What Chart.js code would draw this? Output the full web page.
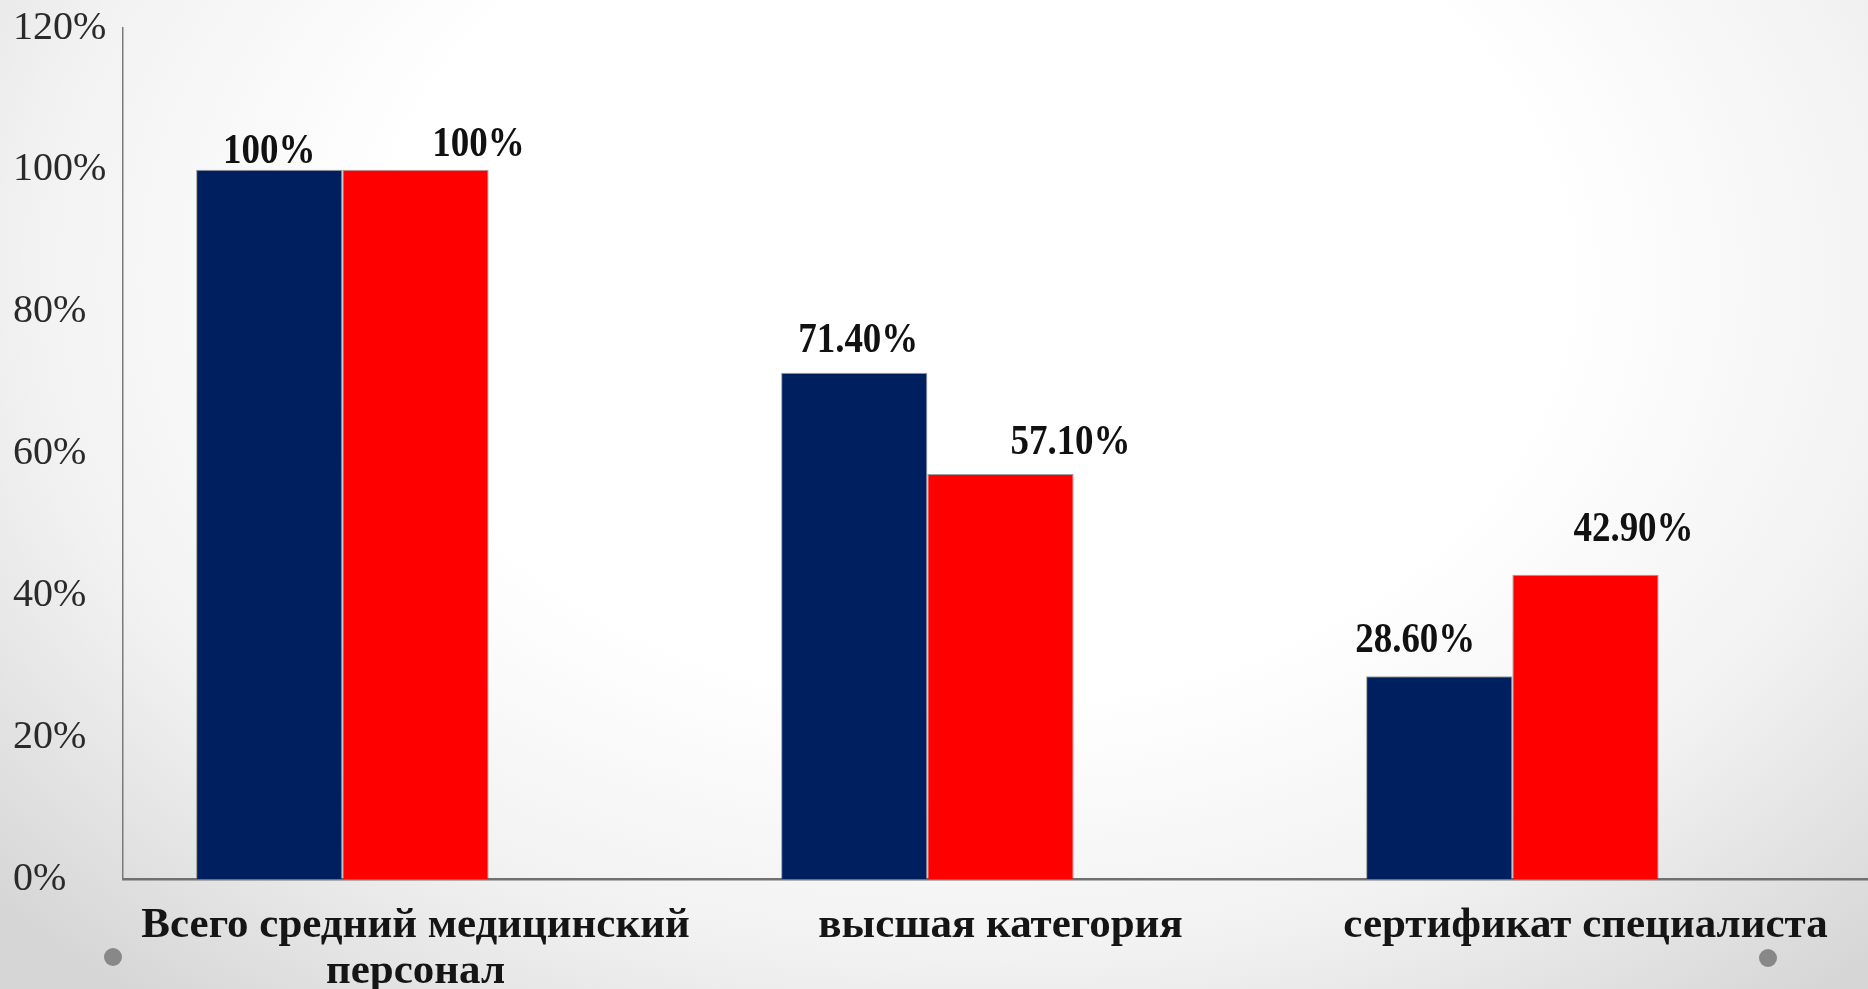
<!DOCTYPE html>
<html>
<head>
<meta charset="utf-8">
<script src="https://cdn.jsdelivr.net/npm/chart.js@4/dist/chart.umd.min.js"></script>
<style>
  html, body { margin: 0; padding: 0; width: 1868px; height: 989px; overflow: hidden; }
  body {
    background: radial-gradient(ellipse 70% 95% at 52% 28%, #ffffff 0%, #ffffff 45%, #f2f2f2 72%, #d6d6d6 100%);
    position: relative;
  }
  #wrap { position: absolute; left: 0; top: 0; width: 1880px; height: 989px; }
  .dot { position: absolute; width: 18px; height: 18px; border-radius: 50%; background: #888888; }
</style>
</head>
<body>
<div id="wrap"><canvas id="c" width="1880" height="989"></canvas></div>
<div class="dot" style="left:104px; top:948px;"></div>
<div class="dot" style="left:1759px; top:949px;"></div>
<script>
// ---- data ----
const categories = [
  ['Всего средний медицинский', 'персонал'],
  'высшая категория',
  'сертификат специалиста'
];
const seriesNavy = [100, 71.4, 28.6];
const seriesRed = [100, 57.1, 42.9];
const seriesEmpty = [];
const yTickValues = [0, 20, 40, 60, 80, 100, 120];

// ---- label placement (style config) ----
const labelPlacement = {
  0: { dx: [0, 4, -24], gap: [7, 21, 24] },
  1: { dx: [63, 70, 48], gap: [14, 20, 34] }
};

function fmtPct(v) {
  return (Number.isInteger(v) ? String(v) : v.toFixed(2)) + '%';
}

const valueLabels = {
  id: 'valueLabels',
  afterDatasetsDraw(chart) {
    const ctx = chart.ctx;
    ctx.save();
    ctx.font = 'bold 43px "Liberation Serif"';
    ctx.fillStyle = '#111111';
    ctx.textAlign = 'center';
    ctx.textBaseline = 'alphabetic';
    [0, 1].forEach(di => {
      const meta = chart.getDatasetMeta(di);
      const ds = chart.data.datasets[di];
      const pl = labelPlacement[di];
      meta.data.forEach((bar, i) => {
        const v = ds.data[i];
        const x = bar.x + pl.dx[i];
        const y = bar.y - pl.gap[i];
        ctx.save();
        ctx.translate(x, y);
        ctx.scale(0.86, 1);
        ctx.fillText(fmtPct(v), 0, 0);
        ctx.restore();
      });
    });
    ctx.restore();
  }
};

new Chart(document.getElementById('c'), {
  type: 'bar',
  data: {
    labels: categories,
    datasets: [
      { label: 'A', data: seriesNavy, backgroundColor: '#001f5f', borderColor: 'rgba(80,80,80,0.55)', borderWidth: 1 },
      { label: 'B', data: seriesRed, backgroundColor: '#ff0000', borderColor: 'rgba(80,80,80,0.55)', borderWidth: 1 },
      { label: 'C', data: seriesEmpty, backgroundColor: 'rgba(0,0,0,0)' }
    ]
  },
  options: {
    responsive: false,
    devicePixelRatio: 1,
    animation: false,
    layout: { padding: { left: 13, top: 28, right: 2, bottom: 0 } },
    plugins: { legend: { display: false }, tooltip: { enabled: false } },
    datasets: { bar: { categoryPercentage: 0.75, barPercentage: 1.0 } },
    scales: {
      x: {
        grid: { display: false, drawTicks: false },
        border: { display: true, color: '#707070', width: 2.5 },
        ticks: {
          padding: 24,
          color: '#151515',
          font: { family: '"Liberation Serif"', size: 43, weight: 'bold', lineHeight: 1.07 },
          maxRotation: 0, autoSkip: false
        },
        afterFit(scale) { scale.height = 110; }
      },
      y: {
        min: 0, max: 120,
        afterBuildTicks(scale) { scale.ticks = yTickValues.map(v => ({ value: v })); },
        grid: { display: false, drawTicks: false },
        border: { display: true, color: '#7a7a7a', width: 1.5 },
        ticks: {
          crossAlign: 'far',
          padding: 0,
          color: '#2a2a2a',
          font: { family: '"Liberation Serif"', size: 40, lineHeight: 1.2 },
          callback: v => v + '%'
        },
        afterFit(scale) { scale.width = 110; }
      }
    }
  },
  plugins: [valueLabels]
});
</script>
</body>
</html>
